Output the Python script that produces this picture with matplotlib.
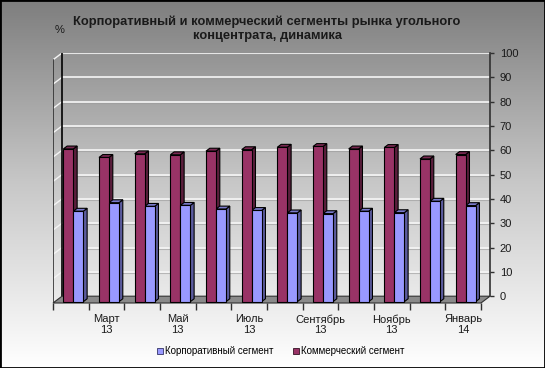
import numpy as np
import matplotlib
matplotlib.use('Agg')
import matplotlib.pyplot as plt
from matplotlib.colors import LinearSegmentedColormap
from matplotlib.patches import Patch, Rectangle

plt.rcParams['font.family'] = ['Liberation Sans', 'DejaVu Sans']

months = ['Февраль\n13', 'Март\n13', 'Апрель\n13', 'Май\n13', 'Июнь\n13', 'Июль\n13',
          'Август\n13', 'Сентябрь\n13', 'Октябрь\n13', 'Ноябрь\n13', 'Декабрь\n13', 'Январь\n14']
corp = [37.2, 40.7, 39.2, 39.6, 38.1, 37.5, 36.5, 36.2, 37.2, 36.6, 41.3, 39.5]
comm = [62.8, 59.3, 60.8, 60.4, 61.9, 62.5, 63.5, 63.8, 62.8, 63.4, 58.7, 60.5]
y_ticks = list(range(0, 101, 10))

# fake 3d: shift of the front plane against the back wall
DX = 0.253
DY = 2.8


def proj(x, v, t):
    # t = 0 front edge of the floor, t = 1 back wall
    return x - DX * (1 - t), v - DY * (1 - t)


def bar3d(ax, x0, w, h, t0, t1, face, side, top):
    fx, fy = proj(x0, 0, t0)
    ax.bar(fx, h, width=w, bottom=fy, align='edge', color=face,
           edgecolor='black', linewidth=0.8, zorder=4)
    side_pts = [proj(x0 + w, 0, t0), proj(x0 + w, 0, t1), proj(x0 + w, h, t1), proj(x0 + w, h, t0)]
    ax.fill([p[0] for p in side_pts], [p[1] for p in side_pts], facecolor=side,
            edgecolor='black', linewidth=0.8, zorder=3)
    top_pts = [proj(x0, h, t0), proj(x0 + w, h, t0), proj(x0 + w, h, t1), proj(x0, h, t1)]
    ax.fill([p[0] for p in top_pts], [p[1] for p in top_pts], facecolor=top,
            edgecolor='black', linewidth=0.8, zorder=3)


fig = plt.figure(figsize=(5.45, 3.68), dpi=100)

# background gradient
bg = fig.add_axes([0, 0, 1, 1], zorder=-10)
cmap = LinearSegmentedColormap.from_list('bg', ['#7e7e7e', '#c8c8c8', '#ffffff'])
bg.imshow(np.linspace(0, 1, 256)[:, None], cmap=cmap, aspect='auto', extent=[0, 1, 0, 1])
bg.axis('off')

ax = fig.add_axes([53 / 545, 65 / 368, 437 / 545, 250 / 368])
ax.set_facecolor('none')
n = len(months)
ax.set_xlim(-DX, n)
ax.set_ylim(-DY, 100)

# walls and gridlines (white line with a soft shadow under it)
for v in y_ticks[1:]:
    ax.plot([0, n], [v - 0.45, v - 0.45], color='#9a9a9a', lw=0.8, alpha=0.6, zorder=1)
    ax.plot([0, n], [v, v], color='#f6f6f6', lw=1.2, zorder=1)
    x1, y1 = proj(0, v, 0)
    ax.plot([x1, 0], [y1, v], color='#f4f4f4', lw=1.0, zorder=1)
ax.plot([-DX, -DX], [-DY, 100 - DY], color='#303030', lw=1.2, zorder=2)
ax.plot([0, 0], [0, 100], color='black', lw=1.2, zorder=2)

# floor
fl = [proj(0, 0, 0), proj(n, 0, 0), proj(n, 0, 1), proj(0, 0, 1)]
ax.fill([p[0] for p in fl], [p[1] for p in fl], facecolor='#8a8a8a',
        edgecolor='#303030', linewidth=0.8, zorder=2, clip_on=False)

t0, t1 = 0.2, 0.62
w = 0.28
for i in range(n):
    bar3d(ax, i + 0.24, w, comm[i], t0, t1, '#993366', '#5a1e3c', '#7a2952')
    bar3d(ax, i + 0.24 + w, w, corp[i], t0, t1, '#9999ff', '#5c5c9e', '#7a7acc')

# value axis on the right
ax.yaxis.tick_right()
ax.set_yticks(y_ticks)
ax.tick_params(axis='y', length=3, width=1, color='#303030', labelsize=8,
               labelcolor='#1a1a1a', pad=4)
for s in ['left', 'top', 'bottom']:
    ax.spines[s].set_visible(False)
ax.spines['right'].set_bounds(0, 100)
ax.spines['right'].set_color('#303030')
ax.spines['right'].set_linewidth(1.2)

# category axis along the front edge of the floor
ax.set_xticks([i + 0.5 - DX for i in range(1, n, 2)], [months[i] for i in range(1, n, 2)])
ax.set_xticks([k - DX for k in range(n + 1)], minor=True)
ax.tick_params(axis='x', which='major', length=0, labelsize=8, labelcolor='#1a1a1a', pad=8)
ax.tick_params(axis='x', which='minor', length=5, width=1, color='#303030')
for lbl in ax.get_xticklabels():
    lbl.set_linespacing(1.1)

fig.text(0.49, 0.957, 'Корпоративный и коммерческий сегменты рынка угольного\nконцентрата, динамика',
         ha='center', va='top', fontsize=9.3, fontweight='bold', color='#1a1a1a', linespacing=1.2)
fig.text(0.1, 0.91, '%', fontsize=8, color='#1a1a1a')

handles = [Patch(facecolor='#9999ff', edgecolor='#333366', lw=0.6),
           Patch(facecolor='#993366', edgecolor='#331122', lw=0.6)]
fig.legend(handles, ['Корпоративный сегмент', 'Коммерческий сегмент'], loc='center',
           bbox_to_anchor=(0.515, 0.045), ncol=2, fontsize=7, frameon=False,
           handlelength=0.6, handleheight=0.6, handletextpad=0.2, columnspacing=2.0)

fig.patches.append(Rectangle((0, 0), 1, 1, transform=fig.transFigure, fill=False,
                             edgecolor='black', linewidth=2))

fig.savefig('out.png', dpi=100)
